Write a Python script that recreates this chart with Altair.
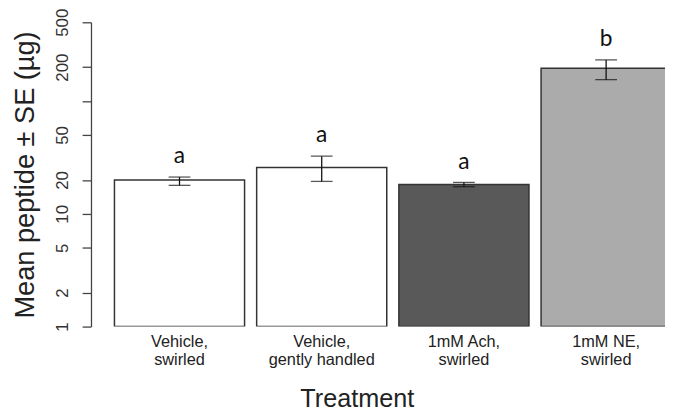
import altair as alt
import pandas as pd

categories = ["Vehicle,\nswirled", "Vehicle,\ngently handled", "1mM Ach,\nswirled", "1mM NE,\nswirled"]
means = [20.0, 25.8, 18.2, 196.0]
se_low = [17.9, 19.4, 17.4, 155.0]
se_high = [21.2, 32.5, 19.0, 232.0]
letters = ["a", "a", "a", "b"]
fills = ["#ffffff", "#ffffff", "#595959", "#ababab"]
y_ticks = [1, 2, 5, 10, 20, 50, 100, 200, 500]

df = pd.DataFrame({
    "Treatment": categories,
    "mean": means,
    "lo": se_low,
    "hi": se_high,
    "letter": letters,
    "fill": fills,
    "base": [1] * len(categories),
})

FONT = "Liberation Sans"

x_enc = alt.X(
    "Treatment:N",
    sort=categories,
    scale=alt.Scale(range=[0, 611], paddingInner=0.085, paddingOuter=0.165),
    axis=alt.Axis(
        title="Treatment",
        domain=False,
        ticks=False,
        grid=False,
        labelAngle=0,
        labelExpr="split(datum.label, '\\n')",
        labelFont=FONT,
        labelFontSize=16.5,
        labelColor="#222222",
        labelLineHeight=18.5,
        labelPadding=7,
        titleFont=FONT,
        titleFontSize=25.5,
        titleFontWeight="normal",
        titleColor="#222222",
        titlePadding=19,
        titleX=269,
        titleAlign="center",
    ),
)

y_scale = alt.Scale(type="log", domain=[1, 500], nice=False)

bars = alt.Chart(df).mark_bar(
    stroke="#333333", strokeWidth=1.5, clip=True
).encode(
    x=x_enc,
    y=alt.Y(
        "mean:Q",
        scale=y_scale,
        axis=alt.Axis(
            title="Mean peptide ± SE (µg)",
            values=y_ticks,
            grid=False,
            labelExpr="datum.value == 100 ? '' : format(datum.value, 'd')",
            labelAngle=270,
            labelAlign="center",
            labelBaseline="bottom",
            labelFont=FONT,
            labelFontSize=17,
            labelColor="#333333",
            labelPadding=11,
            labelOverlap=False,
            labelFlush=False,
            tickSize=9,
            tickColor="#444444",
            tickWidth=1.3,
            domainColor="#444444",
            domainWidth=1.3,
            titleFont=FONT,
            titleFontSize=27.5,
            titleFontWeight="normal",
            titleColor="#222222",
            titlePadding=14,
        ),
    ),
    y2="base:Q",
    fill=alt.Fill("fill:N", scale=None),
)

err = alt.Chart(df).mark_rule(color="#111111", strokeWidth=1.3).encode(
    x=alt.X("Treatment:N", sort=categories),
    y=alt.Y("lo:Q", scale=y_scale),
    y2="hi:Q",
)

cap_lo = alt.Chart(df).mark_tick(color="#111111", thickness=1.3, size=22).encode(
    x=alt.X("Treatment:N", sort=categories),
    y=alt.Y("lo:Q", scale=y_scale),
)
cap_hi = alt.Chart(df).mark_tick(color="#111111", thickness=1.3, size=22).encode(
    x=alt.X("Treatment:N", sort=categories),
    y=alt.Y("hi:Q", scale=y_scale),
)

txt = alt.Chart(df).mark_text(
    font="Lato", fontSize=23, dy=-21, baseline="middle", color="#111111"
).encode(
    x=alt.X("Treatment:N", sort=categories),
    y=alt.Y("hi:Q", scale=y_scale),
    text="letter:N",
)

chart = alt.layer(bars, err, cap_lo, cap_hi, txt).properties(
    width=581, height=308,
    background="white",
    autosize=alt.AutoSizeParams(type="none"),
    padding={"left": 84, "top": 12, "right": 0, "bottom": 85},
).configure_view(stroke="transparent", strokeWidth=0).configure_axis(
    grid=False
)

chart.save("out.html", embed_options={"renderer": "svg", "actions": False})
